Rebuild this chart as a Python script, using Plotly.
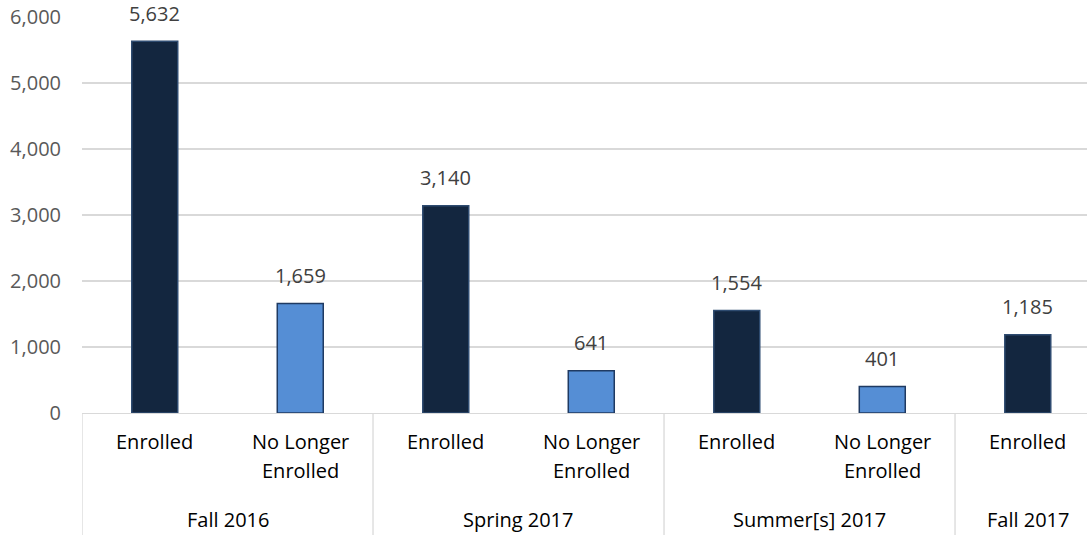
import plotly.graph_objects as go

# ---- data ----
groups = ["Fall 2016", "Spring 2017", "Summer[s] 2017", "Fall 2017"]
group_members = [2, 2, 2, 1]
sub_labels = ["Enrolled", "No Longer Enrolled", "Enrolled", "No Longer Enrolled",
              "Enrolled", "No Longer Enrolled", "Enrolled"]
values = [5632, 1659, 3140, 641, 1554, 401, 1185]
y_ticks = [0, 1000, 2000, 3000, 4000, 5000, 6000]

DARK = "#13263F"
LIGHT = "#558ED5"
colors = [DARK if s == "Enrolled" else LIGHT for s in sub_labels]
line_colors = ["#2E4B70" if s == "Enrolled" else "#1F3A62" for s in sub_labels]

FONT = "Open Sans"
W, H = 1087, 535
L, T, B = 82, 17, 122
plot_h = H - T - B

xs = list(range(len(values)))

fig = go.Figure()
fig.add_trace(go.Bar(
    x=xs, y=values,
    marker=dict(color=colors, line=dict(color=line_colors, width=1.5)),
    width=0.316,
    hoverinfo="skip",
))

# data labels
for x, v in zip(xs, values):
    fig.add_annotation(x=x, y=v, xref="x", yref="y", text=f"{v:,}",
                       showarrow=False, yanchor="middle", yshift=28,
                       font=dict(family=FONT, size=20, color="#404040"))

# sub-category labels
for x, lab in zip(xs, sub_labels):
    if lab == "No Longer Enrolled":
        lines = ["No Longer", "Enrolled"]
    else:
        lines = [lab]
    for i, ln in enumerate(lines):
        fig.add_annotation(x=x, y=0, xref="x", yref="paper", text=ln,
                           showarrow=False, yanchor="middle",
                           yshift=-28 - 29 * i,
                           font=dict(family=FONT, size=20, color="#000000"))

# group labels and separators
start = 0
seps = [-0.5]
for g, n in zip(groups, group_members):
    center = start + (n - 1) / 2
    fig.add_annotation(x=center, y=0, xref="x", yref="paper", text=g,
                       showarrow=False, yanchor="middle", yshift=-106,
                       font=dict(family=FONT, size=20, color="#000000"))
    start += n
    seps.append(start - 0.5)

for s in seps:
    fig.add_shape(type="line", xref="x", yref="paper", x0=s, x1=s,
                  y0=0, y1=-B / plot_h, line=dict(color="#D9D9D9", width=1.3))

fig.update_layout(
    width=W, height=H,
    margin=dict(l=L, r=0, t=T, b=B, autoexpand=False),
    plot_bgcolor="white", paper_bgcolor="white",
    showlegend=False,
    hovermode=False,
    font=dict(family=FONT),
    xaxis=dict(range=[-0.5, 6.407], showticklabels=False, showgrid=False,
               zeroline=False, showline=True, linecolor="#D9D9D9", linewidth=1.3,
               ticks="", automargin=False, fixedrange=True),
    yaxis=dict(range=[0, 6000], tickvals=y_ticks, tickformat=",d",
               showgrid=True, gridcolor="#D9D9D9", gridwidth=1.3,
               zeroline=False, showline=False, ticks="", automargin=False,
               ticklabelstandoff=20, fixedrange=True,
               tickfont=dict(family=FONT, size=20, color="#595959")),
)

fig.write_html("out.html",
               config={"displayModeBar": False, "staticPlot": True},
               post_script="document.body.style.margin='0';document.body.style.overflow='hidden';")
